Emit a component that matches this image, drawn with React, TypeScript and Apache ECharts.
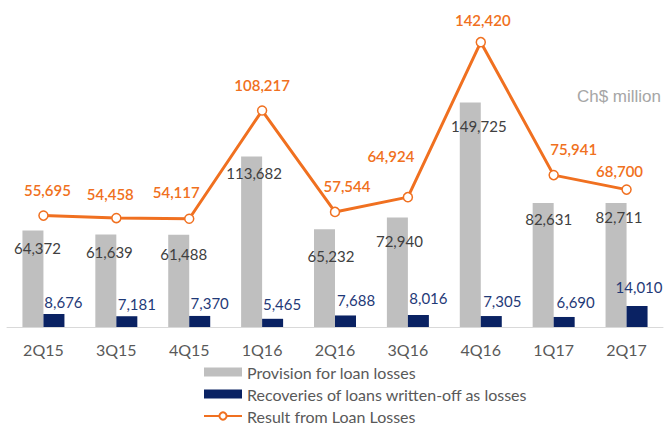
import React, { useEffect, useRef } from "react";
import * as echarts from "echarts";

const categories = ["2Q15", "3Q15", "4Q15", "1Q16", "2Q16", "3Q16", "4Q16", "1Q17", "2Q17"];
const provision = [64372, 61639, 61488, 113682, 65232, 72940, 149725, 82631, 82711];
const recoveries = [8676, 7181, 7370, 5465, 7688, 8016, 7305, 6690, 14010];
const result = [55695, 54458, 54117, 108217, 57544, 64924, 142420, 75941, 68700];
const seriesNames = [
  "Provision for loan losses",
  "Recoveries of loans written-off as losses",
  "Result from Loan Losses",
];
const unitLabel = "Ch$ million";

// label nudges (presentation only)
const provisionLabelOffsets = [[4.5, 5.5], [3.5, 4.5], [5, 6.5], [2.5, 4.5], [6.5, 14.5], [2, 10.5], [8.5, 11.5], [5.5, 3.5], [3, 1.5]];
const recoveriesLabelOffsets = [[9.5, 0.5], [10, 0.5], [10, -0.5], [9.5, -2.5], [10.5, -2.5], [10, -4.5], [11, -2.5], [11.5, -2.5], [2, -6.5]];
const resultLabelOffsets = [[4, -8], [-6, -6], [-13, -9], [0, -8], [12, -8], [-17, -23], [2, -4], [20, -8], [-7, -1]];

const FONT = "Lato, 'Open Sans', sans-serif";
const ORANGE = "#F07020";
const fmt = (v: number) => v.toLocaleString("en-US");

export default function App() {
  const ref = useRef<HTMLDivElement>(null);
  useEffect(() => {
    if (!ref.current) return;
    const chart = echarts.init(ref.current, null, { renderer: "svg" });
    chart.setOption({
      animation: false,
      backgroundColor: "#ffffff",
      textStyle: { fontFamily: FONT },
      grid: { left: 7, right: 3, top: 27, bottom: 98, containLabel: false },
      legend: {
        orient: "vertical",
        left: 198,
        top: 359,
        height: 120,
        itemWidth: 38,
        itemHeight: 9,
        itemGap: 6,
        textStyle: { fontSize: 16, color: "#595959", fontFamily: FONT },
        data: [
          { name: seriesNames[0], icon: "rect" },
          { name: seriesNames[1], icon: "rect" },
          { name: seriesNames[2] },
        ],
      },
      graphic: [
        {
          type: "text",
          right: 5,
          top: 88,
          style: {
            text: unitLabel,
            fill: "#A6A6A6",
            fontSize: 17,
            fontFamily: "'Liberation Sans', Arial, sans-serif",
          },
        },
      ],
      xAxis: {
        type: "category",
        data: categories,
        axisLine: { lineStyle: { color: "#D9D9D9", width: 1 } },
        axisTick: { show: false },
        axisLabel: { color: "#595959", fontSize: 16, margin: 14, fontFamily: FONT },
      },
      yAxis: [
        { type: "value", min: 0, max: 200000, show: false, splitLine: { show: false } },
        { type: "value", min: 0, max: 150000, show: false, splitLine: { show: false } },
      ],
      series: [
        {
          name: seriesNames[0],
          type: "bar",
          yAxisIndex: 0,
          barWidth: 21,
          barGap: "0%",
          itemStyle: { color: "#BFBFBF" },
          data: provision.map((v, i) => ({
            value: v,
            label: { offset: provisionLabelOffsets[i] },
          })),
          label: {
            show: true,
            position: "insideTop",
            color: "#404040",
            fontSize: 15,
            fontFamily: FONT,
            formatter: (p: any) => fmt(p.value),
          },
        },
        {
          name: seriesNames[1],
          type: "bar",
          yAxisIndex: 0,
          barWidth: 21,
          barGap: "0%",
          itemStyle: { color: "#0A2263" },
          data: recoveries.map((v, i) => ({
            value: v,
            label: { offset: recoveriesLabelOffsets[i] },
          })),
          label: {
            show: true,
            position: "top",
            color: "#1F3A78",
            fontSize: 15,
            fontFamily: FONT,
            formatter: (p: any) => fmt(p.value),
          },
        },
        {
          name: seriesNames[2],
          type: "line",
          yAxisIndex: 1,
          symbol: "circle",
          symbolSize: 9,
          lineStyle: { color: ORANGE, width: 3 },
          itemStyle: { color: "#ffffff", borderColor: ORANGE, borderWidth: 1.5 },
          data: result.map((v, i) => ({
            value: v,
            label: { offset: resultLabelOffsets[i] },
          })),
          label: {
            show: true,
            position: "top",
            color: ORANGE,
            fontSize: 15,
            fontWeight: 600,
            fontFamily: FONT,
            formatter: (p: any) => fmt(p.value),
          },
          z: 5,
        },
      ],
    });
    return () => chart.dispose();
  }, []);
  return (
    <div
      ref={ref}
      style={{ position: "fixed", left: 0, top: 0, width: 666, height: 425 }}
    />
  );
}
